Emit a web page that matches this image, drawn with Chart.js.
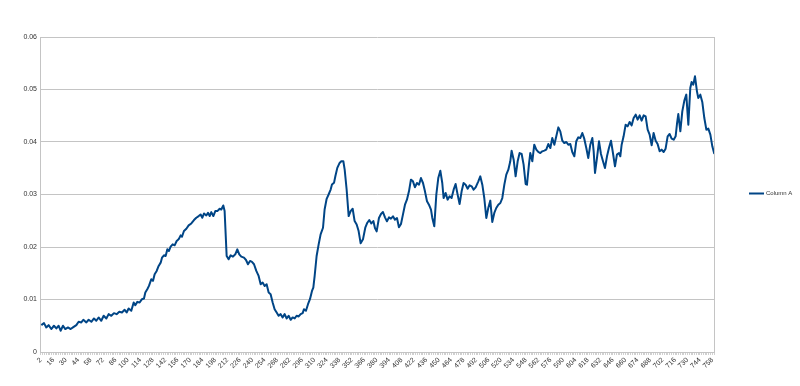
<!DOCTYPE html>
<html><head><meta charset="utf-8">
<script src="https://cdn.jsdelivr.net/npm/chart.js@4/dist/chart.umd.min.js"></script>
<style>html,body{margin:0;padding:0;background:#fff;}#wrap{width:800px;height:386px;position:relative}</style>
</head><body><div id="wrap"><canvas id="c"></canvas></div>
<script>
// row index (x) of each read vertex of the curve
const rowIndex = [2.4,5.4,8.0,10.6,13.6,16.6,19.3,21.9,24.1,26.8,
29.4,32.4,35.4,38.0,41.8,44.4,47.4,49.7,53.1,55.7,
58.7,61.7,64.3,66.9,69.9,72.6,75.6,78.2,81.2,84.2,
87.2,90.2,93.2,96.2,98.5,100.7,103.7,106.4,108.2,110.5,
113.1,115.7,118.0,119.5,121.7,123.6,126.2,128.1,130.0,132.3,
134.5,136.8,138.3,140.5,142.4,144.3,146.1,148.0,150.3,152.5,
154.8,157.0,159.3,160.8,163.0,165.7,168.3,171.3,174.3,176.9,
179.6,181.8,183.7,185.6,188.2,190.1,192.0,193.8,196.1,198.3,
200.6,203.2,205.1,207.3,208.8,211.1,213.3,215.6,218.2,220.8,
223.1,225.3,227.6,230.6,232.9,235.1,237.4,239.6,241.9,244.5,
247.1,249.4,251.6,253.9,256.1,258.4,260.6,262.9,265.1,267.4,
269.6,271.9,274.1,276.4,278.7,280.9,283.2,285.4,287.7,289.9,
292.2,294.4,296.7,298.2,300.4,302.7,304.9,307.2,308.7,310.2,
312.4,314.7,316.9,319.6,321.4,323.7,325.9,328.2,329.7,332.0,
333.5,335.7,338.3,340.2,342.5,344.0,346.2,348.5,350.7,353.0,
355.2,357.5,359.7,362.0,364.6,367.2,369.5,371.7,374.0,376.3,
378.1,380.0,382.6,384.9,387.1,389.4,391.6,393.9,396.1,398.4,
400.6,402.9,405.1,407.4,409.6,411.9,414.1,416.4,418.6,420.9,
423.1,425.4,427.7,429.9,432.2,434.4,436.7,438.9,441.2,442.7,
444.9,447.2,449.4,451.7,453.9,455.4,457.7,459.9,462.2,464.4,
466.7,468.9,471.2,473.4,475.7,477.9,480.2,482.5,484.7,487.0,
489.2,491.5,494.5,496.7,499.0,501.2,503.5,505.7,508.0,510.2,
512.5,514.7,517.0,519.3,521.5,523.8,526.0,528.3,530.5,532.0,
534.3,536.5,538.8,541.0,543.3,545.5,547.8,549.3,551.5,553.0,
555.3,557.5,559.8,562.0,564.3,566.5,568.8,571.0,573.3,575.6,
577.8,580.1,582.3,584.6,586.8,589.1,591.3,593.6,595.8,598.1,
600.3,602.6,604.8,607.1,609.3,611.6,613.8,616.1,618.3,620.6,
622.9,624.4,625.9,628.1,630.4,632.6,634.9,637.1,639.4,641.6,
643.9,646.1,648.4,650.6,652.9,654.4,655.9,658.1,660.4,662.6,
664.9,667.2,669.4,671.7,673.9,676.2,678.4,680.7,682.9,685.2,
687.4,689.7,691.9,694.2,696.4,698.7,700.9,703.2,705.4,707.7,
709.9,712.2,714.5,716.7,718.2,719.7,722.0,724.2,726.5,728.7,
731.0,733.2,734.7,736.6,738.5,740.7,742.2,744.5,746.7,749.0,
751.3,753.5,755.8,758.0,760.3];

const seriesName = 'Column A';
const columnA = [0.00512,0.0055,0.00468,0.00512,0.00437,0.0050,0.00449,0.0050,0.00405,0.0050,
0.00437,0.00468,0.00437,0.00468,0.00512,0.00576,0.00563,0.00614,0.00563,0.00614,
0.00576,0.00639,0.00595,0.00658,0.00595,0.00690,0.00639,0.00721,0.00690,0.00740,
0.00721,0.00766,0.00753,0.00804,0.00753,0.00829,0.00785,0.00943,0.00892,0.00955,
0.00943,0.01006,0.01019,0.01133,0.01196,0.01259,0.01386,0.01354,0.01481,0.01544,
0.01639,0.01702,0.01797,0.01842,0.01829,0.01956,0.01924,0.02006,0.02051,0.02032,
0.02114,0.02146,0.02222,0.02196,0.02304,0.02348,0.02411,0.02449,0.02513,0.02557,
0.02589,0.02620,0.02557,0.02639,0.02601,0.02652,0.02589,0.02665,0.02589,0.02684,
0.02684,0.02728,0.02715,0.02791,0.02684,0.01829,0.01766,0.01842,0.01816,0.01861,
0.01956,0.01861,0.01816,0.01797,0.01753,0.01671,0.01734,0.01715,0.01671,0.01544,
0.01449,0.01291,0.01323,0.01259,0.01291,0.01133,0.01101,0.00943,0.00816,0.00753,
0.00690,0.00721,0.00658,0.00721,0.00639,0.00690,0.00614,0.00658,0.00639,0.00690,
0.00677,0.00721,0.00740,0.00816,0.00785,0.00911,0.01006,0.01164,0.01228,0.01449,
0.01829,0.02051,0.02241,0.02367,0.02715,0.02918,0.03000,0.03095,0.03190,0.03222,
0.03348,0.03507,0.03601,0.03633,0.03633,0.03475,0.03095,0.02589,0.02684,0.02728,
0.02494,0.02430,0.02304,0.02070,0.02146,0.02367,0.02462,0.02513,0.02449,0.02494,
0.02362,0.02298,0.02552,0.02629,0.02667,0.02565,0.02489,0.02565,0.02540,0.02584,
0.02521,0.02552,0.02375,0.02438,0.02616,0.02806,0.02902,0.03060,0.03283,0.03251,
0.03137,0.03219,0.03187,0.03314,0.03219,0.03060,0.02870,0.02806,0.02711,0.02552,
0.02394,0.02997,0.03314,0.03454,0.03219,0.02933,0.03029,0.02902,0.02965,0.02933,
0.03092,0.03200,0.02997,0.02819,0.03060,0.03219,0.03187,0.03111,0.03175,0.03156,
0.03092,0.03137,0.03251,0.03346,0.03187,0.02933,0.02552,0.02743,0.02883,0.02476,
0.02648,0.02743,0.02806,0.02838,0.02933,0.03187,0.03378,0.03473,0.03632,0.03835,
0.03663,0.03346,0.03632,0.03790,0.03771,0.03568,0.03200,0.03187,0.03568,0.03790,
0.03632,0.03949,0.03854,0.03810,0.03790,0.03822,0.03835,0.03854,0.03962,0.03886,
0.04076,0.03949,0.04108,0.04279,0.04203,0.04025,0.03981,0.04000,0.03949,0.03962,
0.03810,0.03727,0.04013,0.04089,0.04076,0.04171,0.04063,0.03886,0.03695,0.03949,
0.04076,0.03822,0.03410,0.03695,0.04013,0.03771,0.03632,0.03505,0.03727,0.03886,
0.04025,0.03790,0.03537,0.03759,0.03790,0.03727,0.03949,0.04108,0.04330,0.04298,
0.04381,0.04317,0.04457,0.04521,0.04425,0.04508,0.04406,0.04508,0.04489,0.04235,
0.04140,0.03937,0.04171,0.04025,0.03962,0.03822,0.03854,0.03810,0.03873,0.04108,
0.04152,0.04063,0.04044,0.04108,0.04343,0.04533,0.04203,0.04584,0.04787,0.04902,
0.04330,0.05029,0.05143,0.05092,0.05251,0.04965,0.04838,0.04902,0.04762,0.04457,
0.04235,0.04254,0.04140,0.03917,0.03771];

const tickLabels = [2,16,30,44,58,72,86,100,114,128,142,156,170,184,198,212,226,240,254,268,282,296,310,324,338,352,366,380,394,408,422,436,450,464,478,492,506,520,534,548,562,576,590,604,618,632,646,660,674,688,702,716,730,744,758];
const yTicks = [0,0.01,0.02,0.03,0.04,0.05,0.06];
const xMin = 0.9, xMax = 759.9;

const FONT = 'Liberation Sans, Arial, sans-serif';
const GRID = '#c4c4c4';
const LINE = '#004586';

const points = rowIndex.map((x, i) => ({ x: x, y: columnA[i] }));

const frame = {
  id: 'frame',
  afterDraw(chart) {
    const {ctx, chartArea: a} = chart;
    ctx.save();
    ctx.strokeStyle = GRID; ctx.lineWidth = 1;
    ctx.beginPath();
    ctx.moveTo(Math.round(a.right) + 0.5, a.top);
    ctx.lineTo(Math.round(a.right) + 0.5, a.bottom);
    ctx.stroke();
    const ly = 193.5;
    ctx.strokeStyle = LINE; ctx.lineWidth = 2;
    ctx.beginPath(); ctx.moveTo(749, ly); ctx.lineTo(764, ly); ctx.stroke();
    ctx.fillStyle = '#333'; ctx.font = '6px ' + FONT;
    ctx.textBaseline = 'middle'; ctx.textAlign = 'left';
    ctx.fillText(seriesName, 766, ly);
    ctx.restore();
  }
};

new Chart(document.getElementById('c'), {
  type: 'line',
  data: { datasets: [{ label: seriesName, data: points, borderColor: LINE, backgroundColor: LINE, borderWidth: 2, pointRadius: 0, tension: 0, fill: false, borderJoinStyle: 'round' }] },
  options: {
    responsive: true, maintainAspectRatio: false, animation: false, parsing: false,
    layout: { padding: { left: 0, right: 86, top: 37, bottom: 0 } },
    plugins: { legend: { display: false }, tooltip: { enabled: false } },
    scales: {
      x: {
        type: 'linear', min: xMin, max: xMax,
        grid: { display: true, drawOnChartArea: false, color: '#d0d0d0', tickLength: 3 },
        border: { color: GRID },
        afterBuildTicks(s) {
          const t = [];
          for (let v = 2; v <= 760; v += 2) t.push({ value: v });
          s.ticks = t;
        },
        ticks: { autoSkip: false, maxRotation: 45, minRotation: 45, padding: 1, color: '#333', font: { size: 7, family: FONT },
          callback: function(v) { return tickLabels.includes(v) ? String(v) : ''; } },
        afterFit(s) { s.height = 34; }
      },
      y: {
        min: 0, max: 0.06,
        grid: { color: GRID, drawTicks: false },
        border: { color: GRID },
        afterBuildTicks(s) { s.ticks = yTicks.map(v => ({ value: v })); },
        ticks: { padding: 3, color: '#333', font: { size: 7, family: FONT },
          callback: v => String(v) },
        afterFit(s) { s.width = 40; }
      }
    }
  },
  plugins: [frame]
});
</script></body></html>
